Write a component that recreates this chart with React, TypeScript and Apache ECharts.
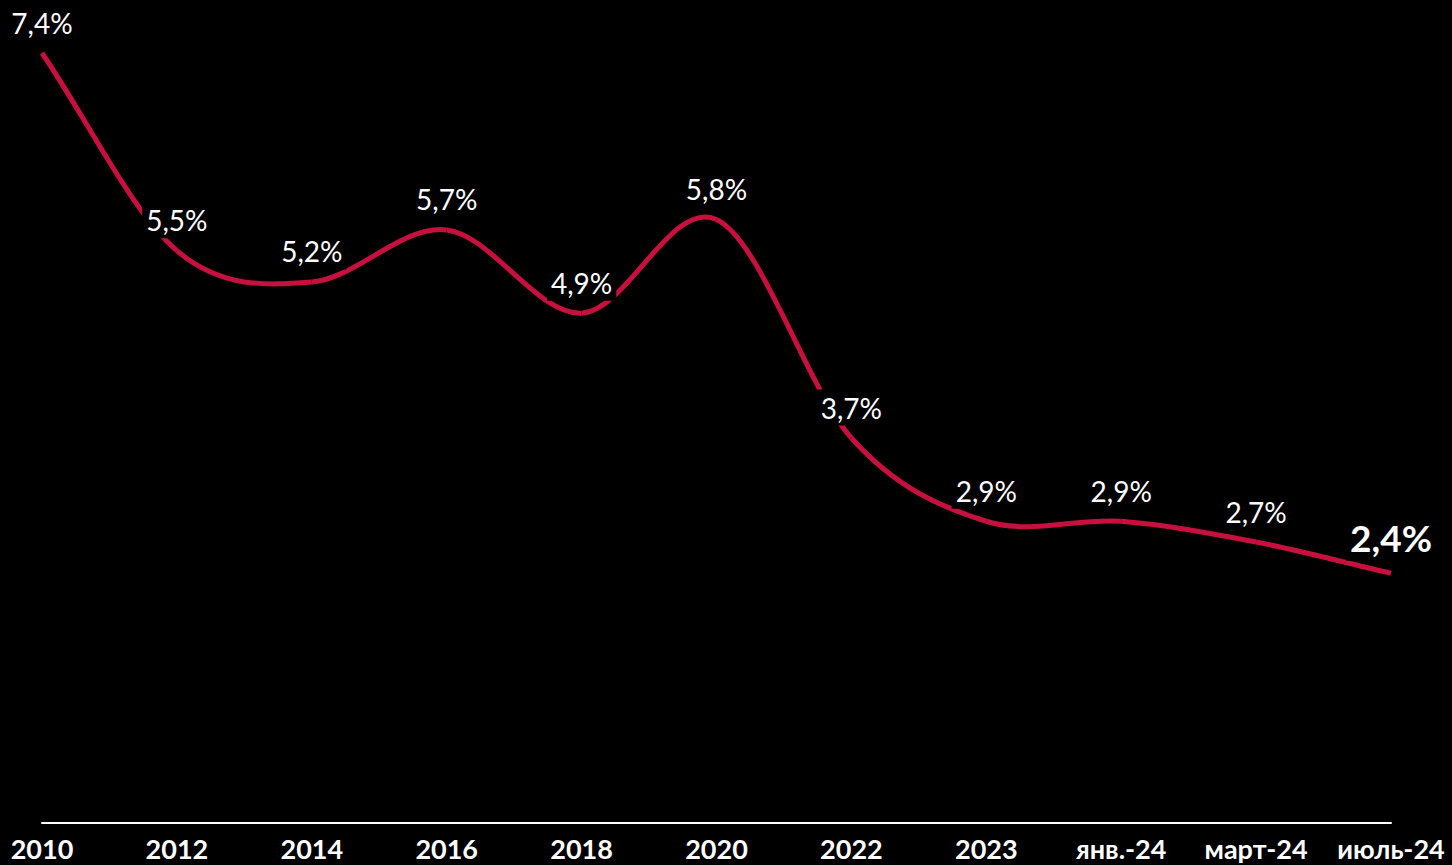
import React, { useEffect, useRef } from "react";
import * as echarts from "echarts";

const categories = ["2010", "2012", "2014", "2016", "2018", "2020", "2022", "2023", "янв.-24", "март-24", "июль-24"];
const values = [7.4, 5.5, 5.2, 5.7, 4.9, 5.8, 3.7, 2.9, 2.9, 2.7, 2.4];

const FONT = "Lato, 'Open Sans', sans-serif";
const LINE_COLOR = "#C8103E";

export default function App() {
  const ref = useRef<HTMLDivElement>(null);
  useEffect(() => {
    if (!ref.current) return;
    const chart = echarts.init(ref.current, null, { renderer: "svg" });
    const last = values.length - 1;
    const labelData = values.map((v, i) =>
      i === last
        ? {
            value: v,
            label: {
              fontSize: 37,
              fontWeight: "bold",
              distance: 12,
              lineHeight: 40,
            },
          }
        : v
    );
    const n = values.length;
    chart.setOption({
      animation: false,
      backgroundColor: "#000000",
      grid: { left: 42, right: 61, top: 53, bottom: 42, containLabel: false },
      xAxis: {
        type: "category",
        data: categories,
        boundaryGap: false,
        axisLine: { show: true, lineStyle: { color: "#ffffff", width: 2 } },
        axisTick: { show: false },
        axisLabel: {
          color: "#ffffff",
          fontFamily: FONT,
          fontWeight: "bold",
          fontSize: 27,
          margin: 12,
          interval: 0,
        },
        splitLine: { show: false },
      },
      yAxis: {
        type: "value",
        min: 0,
        max: 7.4,
        show: false,
        splitLine: { show: false },
      },
      series: [
        {
          type: "custom",
          z: 2,
          silent: true,
          clip: false,
          data: values.map((v, i) => [i, v]),
          encode: { x: 0, y: 1 },
          renderItem: (params: any, api: any) => {
            const i = params.dataIndex;
            if (i >= n - 1) return null;
            const pt = (k: number) => api.coord([k, values[k]]);
            const p1 = pt(i);
            const p2 = pt(i + 1);
            const p0 = i > 0 ? pt(i - 1) : [2 * p1[0] - p2[0], 2 * p1[1] - p2[1]];
            const p3 = i + 2 < n ? pt(i + 2) : [2 * p2[0] - p1[0], 2 * p2[1] - p1[1]];
            const cp1 = [p1[0] + (p2[0] - p0[0]) / 6, p1[1] + (p2[1] - p0[1]) / 6];
            const cp2 = [p2[0] - (p3[0] - p1[0]) / 6, p2[1] - (p3[1] - p1[1]) / 6];
            return {
              type: "bezierCurve",
              shape: {
                x1: p1[0],
                y1: p1[1],
                x2: p2[0],
                y2: p2[1],
                cpx1: cp1[0],
                cpy1: cp1[1],
                cpx2: cp2[0],
                cpy2: cp2[1],
              },
              style: { stroke: LINE_COLOR, lineWidth: 5, fill: null, lineCap: "butt" },
            };
          },
        },
        {
          type: "line",
          z: 3,
          data: labelData,
          symbol: "circle",
          symbolSize: 1,
          showSymbol: true,
          showAllSymbol: true,
          itemStyle: { color: "rgba(0,0,0,0)" },
          lineStyle: { opacity: 0, width: 0 },
          label: {
            show: true,
            position: "top",
            distance: 12,
            color: "#ffffff",
            fontFamily: FONT,
            fontSize: 28,
            lineHeight: 30,
            backgroundColor: "#000000",
            padding: [3, 4],
            formatter: (p: any) => String(p.value).replace(".", ",") + "%",
          },
        },
      ],
    });
    return () => chart.dispose();
  }, []);
  return (
    <div
      ref={ref}
      style={{ position: "fixed", left: 0, top: 0, width: 1452, height: 865, background: "#000" }}
    />
  );
}
